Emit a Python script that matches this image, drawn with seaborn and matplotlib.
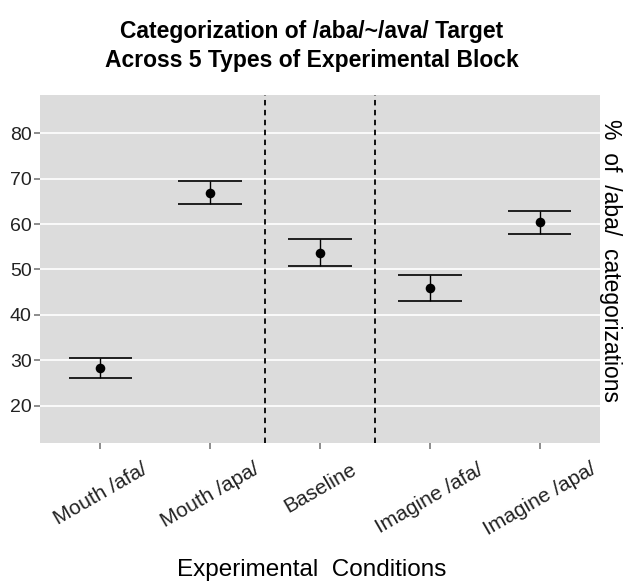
import numpy as np
import pandas as pd
import matplotlib
matplotlib.use("Agg")
import matplotlib.pyplot as plt
import seaborn as sns

# Data
conditions = ["Mouth /afa/", "Mouth /apa/", "Baseline", "Imagine /afa/", "Imagine /apa/"]
pct_aba = [28.4, 66.9, 53.7, 45.9, 60.4]
ci_low = [26.1, 64.3, 50.8, 43.1, 57.9]
ci_high = [30.5, 69.5, 56.7, 48.8, 62.9]
block_breaks = [1.5, 2.5]

df = pd.DataFrame({"condition": conditions, "pct": pct_aba,
                   "low": ci_low, "high": ci_high})

sns.set_theme(style="darkgrid")
plt.rcParams["font.family"] = ["Liberation Sans", "DejaVu Sans"]

fig = plt.figure(figsize=(6.23, 5.82), dpi=100)
ax = fig.add_axes([0.0642, 0.2388, 0.8988, 0.598])
ax.set_facecolor("#dcdcdc")

# error bars with caps
x = np.arange(len(df))
ax.vlines(x, df["low"], df["high"], color="black", lw=1.0, zorder=3)
ax.hlines(df["low"], x - 0.29, x + 0.29, color="black", lw=1.2, zorder=3)
ax.hlines(df["high"], x - 0.29, x + 0.29, color="black", lw=1.2, zorder=3)

sns.scatterplot(data=df, x="condition", y="pct", color="black", s=48,
                linewidth=0, ax=ax, zorder=4)

for b in block_breaks:
    ax.axvline(b, color="black", lw=1.3, ls=(0, (3, 2.5)), zorder=2)

ax.set_xlim(-0.55, 4.55)
ax.set_ylim(11.8, 88.4)
ax.set_yticks([20, 30, 40, 50, 60, 70, 80])
ax.grid(axis="y", color="white", lw=1.2)
ax.grid(axis="x", visible=False)
for s in ax.spines.values():
    s.set_visible(False)

ax.tick_params(axis="both", which="major", length=4, color="#7f7f7f",
               labelcolor="#222222", direction="out",
               bottom=True, left=True)
ax.tick_params(axis="y", labelsize=14, pad=2)
ax.tick_params(axis="x", labelsize=15, pad=8)
plt.setp(ax.get_xticklabels(), rotation=30, ha="center", va="top")
ax.set_xlabel("")
ax.set_ylabel("")

fig.text(0.5, 0.002, "Experimental  Conditions", ha="center", va="bottom",
         fontsize=17.5, color="black")
fig.text(0.98, 0.553, "%  of  /aba/  categorizations", rotation=-90,
         ha="center", va="center", fontsize=16.5, color="black")
fig.suptitle("Categorization of /aba/~/ava/ Target\nAcross 5 Types of Experimental Block",
             x=0.5, y=0.966, fontsize=16.5, fontweight="bold", linespacing=1.35,
             color="black")

fig.savefig("out.png", dpi=100)
